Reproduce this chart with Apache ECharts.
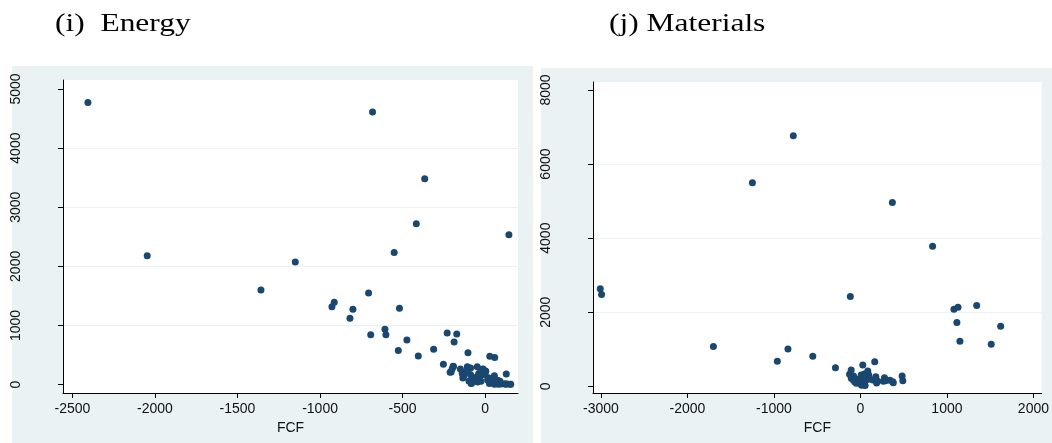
<!DOCTYPE html>
<html>
<head>
<meta charset="utf-8">
<script src="https://cdn.jsdelivr.net/npm/echarts@6/dist/echarts.min.js"></script>
<style>
  html, body { margin: 0; padding: 0; background: #fff; }
  #chart { width: 1052px; height: 443px; }
</style>
</head>
<body>
<div id="chart"></div>
<script>
// values: FCF on x, unnamed variable on y
const energyPoints = [
  [-2406, 4770], [-682, 4612], [-366, 3483], [-417, 2719], [144, 2534],
  [-2047, 2180], [-551, 2236], [-1150, 2073], [-1358, 1601], [-706, 1551],
  [-914, 1393], [-928, 1315], [-801, 1275], [-519, 1292], [-819, 1124],
  [-607, 935], [-601, 845], [-693, 843], [-474, 755], [-230, 872],
  [-172, 858], [-188, 722], [-526, 575], [-312, 600], [-405, 485],
  [-104, 540], [28, 480], [58, 458], [-253, 343], [-194, 312],
  [-200, 262], [-212, 208], [-150, 262], [-108, 300], [-48, 300],
  [-13, 262], [4, 225], [128, 178], [-128, 155], [-88, 165],
  [-46, 140], [56, 150], [22, 112], [-98, 60], [-56, 75],
  [-33, 112], [-82, 25], [38, 40], [68, 18], [90, 55],
  [118, 15], [155, 8], [132, 10], [-4, 170], [-118, 222],
  [-25, 55], [48, 72], [-135, 110], [-72, 112], [16, 72],
  [80, 35], [-88, 282], [-139, 186], [-75, 118], [-39, 186],
  [-35, 73], [-85, 17], [-45, 44], [16, 118], [36, 73],
  [26, 20], [56, 8], [80, 5], [97, 10], [123, 5],
  [151, 5], [76, 73], [-192, 305], [-206, 213], [-105, 213],
  [2, 230], [-15, 259]
];

const materialsPoints = [
  [-3008, 2631], [-2993, 2477], [-1700, 1072], [-1249, 5495], [-776, 6766],
  [-961, 676], [-838, 1005], [-551, 810], [-289, 500], [-117, 2423],
  [369, 4964], [834, 3784], [1081, 2081], [1128, 2135], [1344, 2180],
  [1115, 1721], [1621, 1622], [1150, 1216], [1512, 1135], [27, 572],
  [165, 660], [-107, 437], [-126, 324], [85, 414], [96, 305],
  [-106, 216], [-68, 124], [-10, 81], [47, 54], [-30, 189],
  [28, 216], [66, 170], [9, 305], [178, 259], [197, 143],
  [278, 232], [289, 151], [374, 124], [482, 278], [490, 151],
  [143, 170], [-48, 81], [-79, 278], [341, 162], [187, 90],
  [264, 135], [380, 99], [14, 30], [54, 20], [34, 120],
  [-36, 140], [74, 260], [104, 200], [-86, 180], [44, 330]
];

const energyXTicks = [-2500, -2000, -1500, -1000, -500, 0];
const energyYTicks = [0, 1000, 2000, 3000, 4000, 5000];
const materialsXTicks = [-3000, -2000, -1000, 0, 1000, 2000];
const materialsYTicks = [0, 2000, 4000, 6000, 8000];

const panelTitles = ["(i)  Energy", "(j) Materials"];

const chart = echarts.init(document.getElementById("chart"), null, { renderer: "canvas" });

const bg = "#eaf2f3";
const dot = "#1a476f";
const labelFont = { fontFamily: "'Liberation Sans', Arial, sans-serif", fontSize: 14, color: "#111" };
const plain = (v) => String(v);

function xAxisFor(gridIndex, min, max, ticks) {
  return {
    type: "value",
    gridIndex,
    min,
    max,
    splitNumber: 5,
    name: "FCF",
    nameLocation: "middle",
    nameGap: 17,
    nameTextStyle: labelFont,
    axisLine: { show: true, onZero: false, lineStyle: { color: "#000", width: 1 } },
    axisTick: { show: true, length: 5, customValues: ticks, lineStyle: { color: "#000" } },
    axisLabel: { margin: 9, customValues: ticks, formatter: plain, ...labelFont },
    splitLine: { show: false },
  };
}

function yAxisFor(gridIndex, min, max, ticks) {
  return {
    type: "value",
    gridIndex,
    min,
    max,
    splitNumber: 5,
    axisLine: { show: true, onZero: false, lineStyle: { color: "#000", width: 1 } },
    axisTick: { show: true, length: 5, customValues: ticks, lineStyle: { color: "#000" } },
    axisLabel: { margin: 40, rotate: 90, customValues: ticks, formatter: plain, ...labelFont },
    splitLine: { show: true, showMinLine: false, showMaxLine: false, lineStyle: { color: bg, width: 1 } },
  };
}

const option = {
  animation: false,
  backgroundColor: "#fff",
  graphic: [
    { type: "rect", z: -10, shape: { x: 12, y: 66, width: 521, height: 377 }, style: { fill: bg } },
    { type: "rect", z: -10, shape: { x: 541, y: 68, width: 511, height: 375 }, style: { fill: bg } },
    {
      type: "text", x: 55, y: 11, scaleX: 1.21,
      style: { text: panelTitles[0], font: "26px 'Liberation Serif', 'Times New Roman', serif", fill: "#000", verticalAlign: "top" },
    },
    {
      type: "text", x: 609, y: 11, scaleX: 1.21,
      style: { text: panelTitles[1], font: "26px 'Liberation Serif', 'Times New Roman', serif", fill: "#000", verticalAlign: "top" },
    },
  ],
  grid: [
    { left: 63, top: 80, width: 455, height: 313, show: true, backgroundColor: "#fff", borderWidth: 0 },
    { left: 593, top: 82, width: 453, height: 311, show: true, backgroundColor: "#fff", borderWidth: 0 },
  ],
  xAxis: [
    xAxisFor(0, -2557, 199, energyXTicks),
    xAxisFor(1, -3092, 2095, materialsXTicks),
  ],
  yAxis: [
    yAxisFor(0, -142, 5152, energyYTicks),
    yAxisFor(1, -181, 8216, materialsYTicks),
  ],
  series: [
    {
      type: "scatter", xAxisIndex: 0, yAxisIndex: 0,
      data: energyPoints, symbolSize: 7,
      itemStyle: { color: dot, opacity: 1 },
    },
    {
      type: "scatter", xAxisIndex: 1, yAxisIndex: 1,
      data: materialsPoints, symbolSize: 7,
      itemStyle: { color: dot, opacity: 1 },
    },
  ],
};

chart.setOption(option);
</script>
</body>
</html>
